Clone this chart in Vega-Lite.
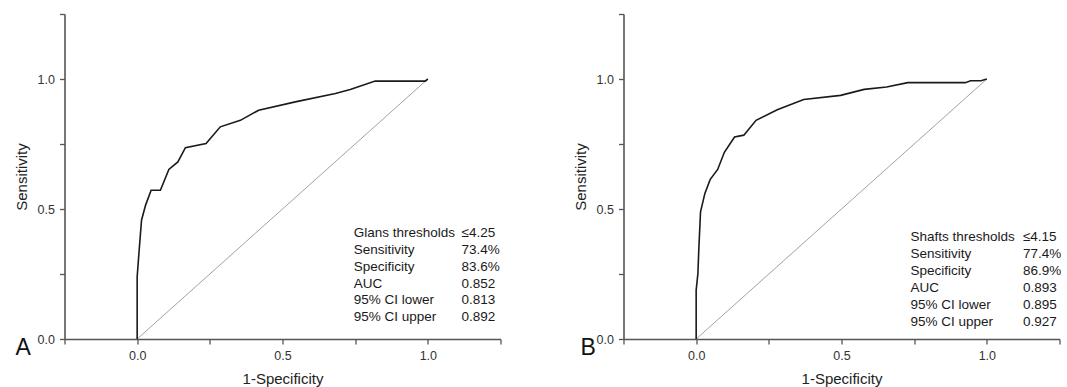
{
  "$schema": "https://vega.github.io/schema/vega-lite/v6.json",
  "background": "white",
  "padding": {"left": 13.5, "top": 8, "right": 0, "bottom": 0},
  "config": {
    "view": {"stroke": null},
    "font": "Liberation Sans",
    "concat": {"spacing": 71},
    "axis": {
      "grid": false,
      "domainColor": "#555555",
      "domainWidth": 1.6,
      "tickColor": "#555555",
      "tickWidth": 1.3,
      "tickSize": 5,
      "labelPadding": 5,
      "labelFont": "Liberation Sans",
      "labelFontSize": 12.5,
      "labelColor": "#333333",
      "labelOverlap": false,
      "labelFlush": false,
      "titleFont": "Liberation Sans",
      "titleFontSize": 15,
      "titleFontWeight": "normal",
      "titleColor": "#222222"
    }
  },
  "datasets": {
    "roc": [
      {"panel": "A", "i": 1, "fpr": 0, "tpr": 0},
      {"panel": "A", "i": 2, "fpr": 0, "tpr": 0.239},
      {"panel": "A", "i": 3, "fpr": 0.006, "tpr": 0.329},
      {"panel": "A", "i": 4, "fpr": 0.015, "tpr": 0.457},
      {"panel": "A", "i": 5, "fpr": 0.029, "tpr": 0.515},
      {"panel": "A", "i": 6, "fpr": 0.048, "tpr": 0.572},
      {"panel": "A", "i": 7, "fpr": 0.08, "tpr": 0.572},
      {"panel": "A", "i": 8, "fpr": 0.109, "tpr": 0.652},
      {"panel": "A", "i": 9, "fpr": 0.14, "tpr": 0.681},
      {"panel": "A", "i": 10, "fpr": 0.166, "tpr": 0.736},
      {"panel": "A", "i": 11, "fpr": 0.237, "tpr": 0.752},
      {"panel": "A", "i": 12, "fpr": 0.286, "tpr": 0.816},
      {"panel": "A", "i": 13, "fpr": 0.355, "tpr": 0.841},
      {"panel": "A", "i": 14, "fpr": 0.418, "tpr": 0.88},
      {"panel": "A", "i": 15, "fpr": 0.544, "tpr": 0.912},
      {"panel": "A", "i": 16, "fpr": 0.682, "tpr": 0.944},
      {"panel": "A", "i": 17, "fpr": 0.733, "tpr": 0.96},
      {"panel": "A", "i": 18, "fpr": 0.819, "tpr": 0.992},
      {"panel": "A", "i": 19, "fpr": 0.991, "tpr": 0.992},
      {"panel": "A", "i": 20, "fpr": 1, "tpr": 1},
      {"panel": "B", "i": 1, "fpr": 0, "tpr": 0},
      {"panel": "B", "i": 2, "fpr": 0, "tpr": 0.188},
      {"panel": "B", "i": 3, "fpr": 0.006, "tpr": 0.252},
      {"panel": "B", "i": 4, "fpr": 0.009, "tpr": 0.342},
      {"panel": "B", "i": 5, "fpr": 0.015, "tpr": 0.489},
      {"panel": "B", "i": 6, "fpr": 0.03, "tpr": 0.56},
      {"panel": "B", "i": 7, "fpr": 0.048, "tpr": 0.613},
      {"panel": "B", "i": 8, "fpr": 0.074, "tpr": 0.652},
      {"panel": "B", "i": 9, "fpr": 0.097, "tpr": 0.718},
      {"panel": "B", "i": 10, "fpr": 0.132, "tpr": 0.777},
      {"panel": "B", "i": 11, "fpr": 0.164, "tpr": 0.784},
      {"panel": "B", "i": 12, "fpr": 0.206, "tpr": 0.841},
      {"panel": "B", "i": 13, "fpr": 0.279, "tpr": 0.882},
      {"panel": "B", "i": 14, "fpr": 0.37, "tpr": 0.921},
      {"panel": "B", "i": 15, "fpr": 0.497, "tpr": 0.937},
      {"panel": "B", "i": 16, "fpr": 0.578, "tpr": 0.96},
      {"panel": "B", "i": 17, "fpr": 0.655, "tpr": 0.969},
      {"panel": "B", "i": 18, "fpr": 0.728, "tpr": 0.986},
      {"panel": "B", "i": 19, "fpr": 0.926, "tpr": 0.986},
      {"panel": "B", "i": 20, "fpr": 0.944, "tpr": 0.993},
      {"panel": "B", "i": 21, "fpr": 0.98, "tpr": 0.993},
      {"panel": "B", "i": 22, "fpr": 1, "tpr": 1}
    ],
    "diag": [
      {"fpr": 0, "tpr": 0},
      {"fpr": 1, "tpr": 1}
    ],
    "panels": [
      {"panel": "A"},
      {"panel": "B"}
    ],
    "stats": [
      {"panel": "A", "line": 1, "label": "Glans thresholds", "value": "≤4.25"},
      {"panel": "A", "line": 2, "label": "Sensitivity", "value": "73.4%"},
      {"panel": "A", "line": 3, "label": "Specificity", "value": "83.6%"},
      {"panel": "A", "line": 4, "label": "AUC", "value": "0.852"},
      {"panel": "A", "line": 5, "label": "95% CI lower", "value": "0.813"},
      {"panel": "A", "line": 6, "label": "95% CI upper", "value": "0.892"},
      {"panel": "B", "line": 1, "label": "Shafts thresholds", "value": "≤4.15"},
      {"panel": "B", "line": 2, "label": "Sensitivity", "value": "77.4%"},
      {"panel": "B", "line": 3, "label": "Specificity", "value": "86.9%"},
      {"panel": "B", "line": 4, "label": "AUC", "value": "0.893"},
      {"panel": "B", "line": 5, "label": "95% CI lower", "value": "0.895"},
      {"panel": "B", "line": 6, "label": "95% CI upper", "value": "0.927"}
    ]
  },
  "hconcat": [
    {
      "width": 436,
      "height": 325,
      "layer": [
        {
          "layer": [
            {
              "data": {"name": "diag"},
              "mark": {"type": "line", "color": "#8a8a8a", "strokeWidth": 0.8},
              "encoding": {
                "x": {
                  "field": "fpr", "type": "quantitative",
                  "scale": {"domain": [-0.25, 1.25], "nice": false, "zero": false},
                  "axis": {
                    "title": "1-Specificity",
                    "values": [-0.25, 0, 0.25, 0.5, 0.75, 1, 1.25],
                    "labelExpr": "indexof([0, 0.5, 1], datum.value) >= 0 ? format(datum.value, '.1f') : ''",
                    "titlePadding": 10
                  }
                },
                "y": {
                  "field": "tpr", "type": "quantitative",
                  "scale": {"domain": [0, 1.25], "nice": false, "zero": false},
                  "axis": {
                    "title": "Sensitivity",
                    "values": [0, 0.25, 0.5, 0.75, 1, 1.25],
                    "labelExpr": "indexof([0, 0.5, 1], datum.value) >= 0 ? format(datum.value, '.1f') : ''",
                    "titlePadding": 8
                  }
                }
              }
            },
            {
              "data": {"name": "roc"},
              "transform": [{"filter": "datum.panel == 'A'"}],
              "mark": {"type": "line", "color": "#1a1a1a", "strokeWidth": 1.6},
              "encoding": {
                "x": {"field": "fpr", "type": "quantitative"},
                "y": {"field": "tpr", "type": "quantitative"},
                "order": {"field": "i", "type": "quantitative"}
              }
            },
            {
              "data": {"name": "panels"},
              "transform": [{"filter": "datum.panel == 'A'"}],
              "mark": {"type": "text", "align": "left", "baseline": "alphabetic", "fontSize": 23, "dx": -49, "dy": 16, "color": "#111111"},
              "encoding": {
                "x": {"datum": -0.25, "type": "quantitative"},
                "y": {"datum": 0, "type": "quantitative"},
                "text": {"field": "panel"}
              }
            }
          ]
        },
        {
          "data": {"name": "stats"},
          "transform": [{"filter": "datum.panel == 'A'"}],
          "encoding": {
            "y": {
              "field": "line", "type": "quantitative",
              "scale": {"domain": [7.29, -12.03], "nice": false, "zero": false},
              "axis": null
            }
          },
          "layer": [
            {
              "mark": {"type": "text", "align": "left", "baseline": "middle", "fontSize": 13.5, "color": "#1a1a1a"},
              "encoding": {
                "x": {"datum": 0.745, "type": "quantitative"},
                "text": {"field": "label"}
              }
            },
            {
              "mark": {"type": "text", "align": "left", "baseline": "middle", "fontSize": 13.5, "color": "#1a1a1a"},
              "encoding": {
                "x": {"datum": 1.116, "type": "quantitative"},
                "text": {"field": "value"}
              }
            }
          ]
        }
      ],
      "resolve": {"scale": {"y": "independent"}}
    },
    {
      "width": 436,
      "height": 325,
      "layer": [
        {
          "layer": [
            {
              "data": {"name": "diag"},
              "mark": {"type": "line", "color": "#8a8a8a", "strokeWidth": 0.8},
              "encoding": {
                "x": {
                  "field": "fpr", "type": "quantitative",
                  "scale": {"domain": [-0.25, 1.25], "nice": false, "zero": false},
                  "axis": {
                    "title": "1-Specificity",
                    "values": [-0.25, 0, 0.25, 0.5, 0.75, 1, 1.25],
                    "labelExpr": "indexof([0, 0.5, 1], datum.value) >= 0 ? format(datum.value, '.1f') : ''",
                    "titlePadding": 10
                  }
                },
                "y": {
                  "field": "tpr", "type": "quantitative",
                  "scale": {"domain": [0, 1.25], "nice": false, "zero": false},
                  "axis": {
                    "title": "Sensitivity",
                    "values": [0, 0.25, 0.5, 0.75, 1, 1.25],
                    "labelExpr": "indexof([0, 0.5, 1], datum.value) >= 0 ? format(datum.value, '.1f') : ''",
                    "titlePadding": 8
                  }
                }
              }
            },
            {
              "data": {"name": "roc"},
              "transform": [{"filter": "datum.panel == 'B'"}],
              "mark": {"type": "line", "color": "#1a1a1a", "strokeWidth": 1.6},
              "encoding": {
                "x": {"field": "fpr", "type": "quantitative"},
                "y": {"field": "tpr", "type": "quantitative"},
                "order": {"field": "i", "type": "quantitative"}
              }
            },
            {
              "data": {"name": "panels"},
              "transform": [{"filter": "datum.panel == 'B'"}],
              "mark": {"type": "text", "align": "left", "baseline": "alphabetic", "fontSize": 23, "dx": -43, "dy": 16, "color": "#111111"},
              "encoding": {
                "x": {"datum": -0.25, "type": "quantitative"},
                "y": {"datum": 0, "type": "quantitative"},
                "text": {"field": "panel"}
              }
            }
          ]
        },
        {
          "data": {"name": "stats"},
          "transform": [{"filter": "datum.panel == 'B'"}],
          "encoding": {
            "y": {
              "field": "line", "type": "quantitative",
              "scale": {"domain": [7.018, -12.12], "nice": false, "zero": false},
              "axis": null
            }
          },
          "layer": [
            {
              "mark": {"type": "text", "align": "left", "baseline": "middle", "fontSize": 13.5, "color": "#1a1a1a"},
              "encoding": {
                "x": {"datum": 0.737, "type": "quantitative"},
                "text": {"field": "label"}
              }
            },
            {
              "mark": {"type": "text", "align": "left", "baseline": "middle", "fontSize": 13.5, "color": "#1a1a1a"},
              "encoding": {
                "x": {"datum": 1.124, "type": "quantitative"},
                "text": {"field": "value"}
              }
            }
          ]
        }
      ],
      "resolve": {"scale": {"y": "independent"}}
    }
  ]
}
